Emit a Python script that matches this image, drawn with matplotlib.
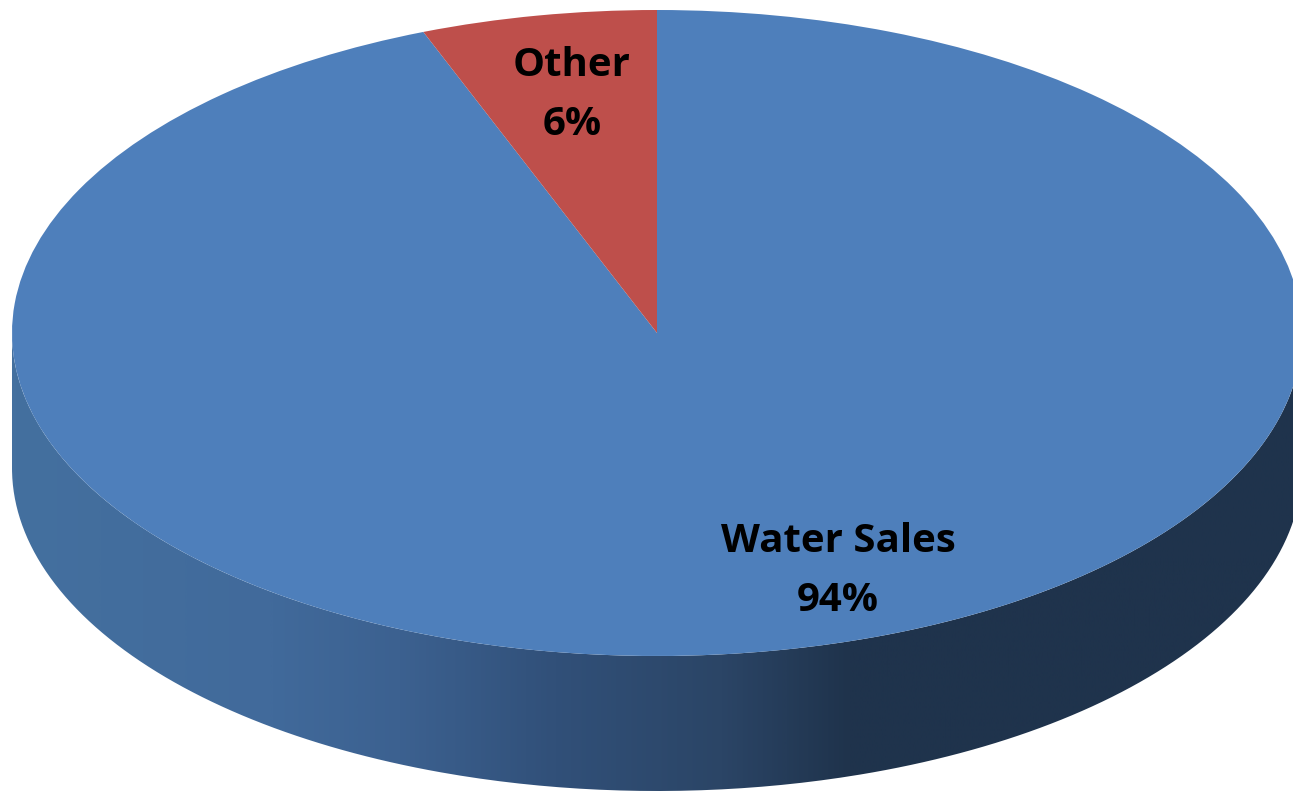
import numpy as np
from matplotlib import pyplot as plt
from matplotlib.colors import LinearSegmentedColormap
from matplotlib.patches import PathPatch
from matplotlib.path import Path

plt.rcParams['font.family'] = ['Open Sans', 'DejaVu Sans']

labels = ['Water Sales', 'Other']
shares = [94.1, 5.9]
colors = ['#4e7fbb', '#be4f4b']

width, height = 1293, 791
# pie center and radii in pixels, the pie is a squashed circle
cx, cy = 657, 333
rx, ry = 645, 323
depth = 135

fig = plt.figure(figsize=(width / 100, height / 100), dpi=100)
ax = fig.add_axes([0, 0, 1, 1])


# Side of the disc, a gradient clipped to the lower half of the ellipse shifted down
def draw_side():
    t = np.linspace(np.pi, 2 * np.pi, 300)
    x = np.cos(t)
    y = np.sin(t)
    d = depth / ry
    verts = np.concatenate((np.column_stack((x, y)), np.column_stack((x[::-1], y[::-1] - d))))
    cmap = LinearSegmentedColormap.from_list('side', [
        (0.0, '#44709f'), (0.2, '#416a9b'), (0.3, '#3c6190'), (0.42, '#315079'),
        (0.55, '#2b4566'), (0.65, '#1f334c'), (1.0, '#1f334c')])
    im = ax.imshow(np.linspace(0, 1, 512).reshape(1, -1), cmap=cmap, aspect='auto',
                   extent=(-1, 1, -1 - d, 0), zorder=1)
    patch = PathPatch(Path(verts), transform=ax.transData, facecolor='none', edgecolor='none')
    ax.add_patch(patch)
    im.set_clip_path(patch)


draw_side()

wedges, texts = ax.pie(shares, colors=colors, startangle=90, counterclock=False, radius=1,
                       wedgeprops={'linewidth': 0, 'zorder': 2})

ax.set_aspect('auto')
ax.set_xlim(-cx / rx, (width - cx) / rx)
ax.set_ylim((cy - height) / ry, cy / ry)
ax.axis('off')

ax.text((838 - cx) / rx, (cy - 571) / ry, labels[0] + '\n' + str(round(shares[0])) + '%', ha='center', va='center',
        fontsize=29, fontweight='bold', color='black', linespacing=1.64, zorder=3)
ax.text((572 - cx) / rx, (cy - 95) / ry, labels[1] + '\n' + str(round(shares[1])) + '%', ha='center', va='center',
        fontsize=29, fontweight='bold', color='black', linespacing=1.64, zorder=3)

fig.savefig('out.png', dpi=100)
